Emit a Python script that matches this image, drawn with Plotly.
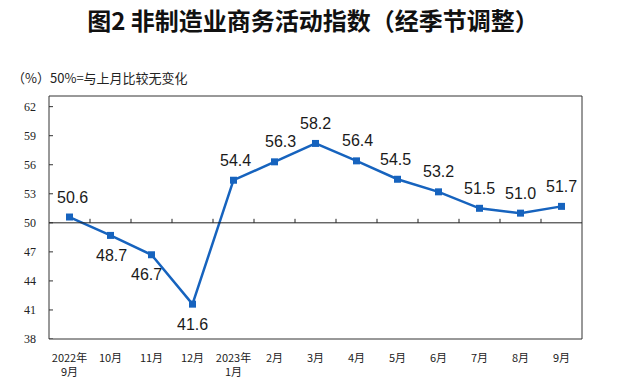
import plotly.graph_objects as go

categories = ["2022年<br>9月", "10月", "11月", "12月", "2023年<br>1月", "2月", "3月",
              "4月", "5月", "6月", "7月", "8月", "9月"]
values = [50.6, 48.7, 46.7, 41.6, 54.4, 56.3, 58.2, 56.4, 54.5, 53.2, 51.5, 51.0, 51.7]
label_texts = ["50.6", "48.7", "46.7", "41.6", "54.4", "56.3", "58.2", "56.4", "54.5",
               "53.2", "51.5", "51.0", "51.7"]
label_side = ["up", "down", "down", "down", "up", "up", "up", "up", "up", "up", "up", "up", "up"]
label_dx = [3, 1, -5, 0, 2, 6, 0, 1, -2, 0, 0, 0, 0]
y_ticks = [38, 41, 44, 47, 50, 53, 56, 59, 62]
ref_value = 50

Y_MIN, Y_MAX = 38, 63.1
BLUE = "#1663BE"
AX = "#333333"

fig = go.Figure()
fig.add_trace(go.Scatter(
    x=list(range(len(categories))), y=values, mode="lines+markers",
    line=dict(color=BLUE, width=2.5),
    marker=dict(symbol="square", size=7, color=BLUE),
    hoverinfo="skip", showlegend=False,
))

for i, (v, t, s, dx) in enumerate(zip(values, label_texts, label_side, label_dx)):
    fig.add_annotation(
        x=i, y=v, text=t, showarrow=False, xshift=dx,
        yshift=20 if s == "up" else -20,
        font=dict(family="Liberation Sans, Arial", size=16, color="#1a1a1a"),
    )

# frame
fig.add_shape(type="rect", xref="paper", yref="paper", x0=0, x1=1, y0=0, y1=1,
              line=dict(color=AX, width=1), layer="above")
# y-axis inside ticks
for v in y_ticks:
    fig.add_shape(type="line", xref="paper", yref="y", xsizemode="pixel", xanchor=0,
                  x0=0, x1=4, y0=v, y1=v, line=dict(color=AX, width=1))
# 50% reference line with small upward ticks at category boundaries
fig.add_shape(type="line", xref="paper", yref="y", x0=0, x1=1, y0=ref_value, y1=ref_value,
              line=dict(color="#222", width=1))
for i in range(len(categories) - 1):
    fig.add_shape(type="line", xref="x", yref="y", x0=i + 0.5, x1=i + 0.5,
                  ysizemode="pixel", yanchor=ref_value, y0=0, y1=4,
                  line=dict(color="#222", width=1))

fig.add_annotation(
    xref="paper", yref="paper", x=(10 - 49) / 533, y=(339 - 77) / 243,
    xanchor="left", yanchor="middle",
    text="（%）50%=与上月比较无变化", showarrow=False,
    font=dict(family="Noto Sans CJK SC", size=13, color="#222"),
)

fig.update_layout(
    width=626, height=388,
    margin=dict(l=49, r=44, t=96, b=49, autoexpand=False),
    paper_bgcolor="white", plot_bgcolor="white",
    title=dict(
        text="图2 非制造业商务活动指数（经季节调整）",
        x=0.5, xanchor="center", xref="container",
        y=1 - 22 / 388, yanchor="middle", yref="container",
        font=dict(family="Noto Sans CJK SC", size=24, color="#111", weight="bold"),
    ),
    xaxis=dict(
        range=[-0.5, len(categories) - 0.5],
        tickvals=list(range(len(categories))), ticktext=categories,
        showgrid=False, zeroline=False, automargin=False,
        showline=False, ticks="", ticklabelstandoff=11,
        tickfont=dict(family="Noto Sans CJK SC", size=11, color="#222"),
    ),
    yaxis=dict(
        range=[Y_MIN, Y_MAX], tickvals=y_ticks, showgrid=False, zeroline=False,
        automargin=False, showline=False, ticks="", ticklabelstandoff=12,
        tickfont=dict(family="Liberation Serif, Times New Roman", size=12, color="#222"),
    ),
)

fig.write_html("out.html", config={"displayModeBar": False},
               post_script="document.body.style.margin='0';")
